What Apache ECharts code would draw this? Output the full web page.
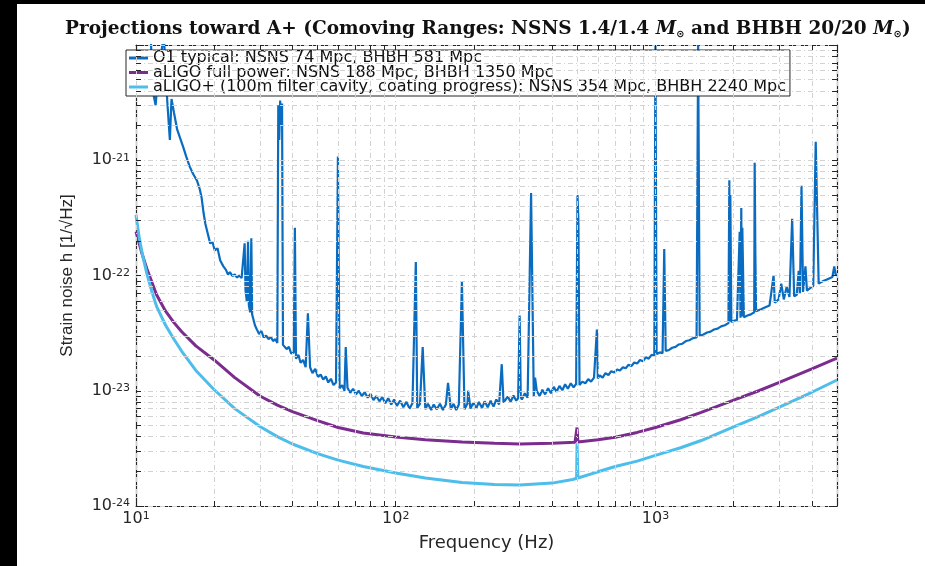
<!DOCTYPE html>
<html><head><meta charset="utf-8">
<script src="https://cdn.jsdelivr.net/npm/echarts@6/dist/echarts.min.js"></script>
<style>html,body{margin:0;padding:0;background:#fff}#c{width:925px;height:566px}</style>
</head><body><div id="c"></div>
<script>
const TITLE_PARTS = ['Projections toward A+ (Comoving Ranges: NSNS 1.4/1.4 ', ' and BHBH 20/20 ', ')'];
const SERIES_NAMES = [
  'O1 typical: NSNS 74 Mpc, BHBH 581 Mpc',
  'aLIGO full power: NSNS 188 Mpc, BHBH 1350 Mpc',
  'aLIGO+ (100m filter cavity, coating progress): NSNS 354 Mpc, BHBH 2240 Mpc'
];
const X_NAME = 'Frequency (Hz)';
const Y_NAME = 'Strain noise h [1/\u221AHz]';
const X_RANGE = [10, 5000];
const Y_RANGE = [1e-24, 1e-20];
const Y_HIDDEN_EXP = [-20];

const O1_FREQ = [10.9,11.3,11.6,11.9,12.2,12.8,13.2,13.5,13.7,14.0,14.4,14.8,15.2,15.6,16.1,16.6,17.2,17.6,17.9,18.2,18.5,18.9,19.3,19.7,20.1,20.6,21.1,21.7,22.2,22.6,23.0,23.5,24.0,24.5,25.0,25.5,25.9,26.2,26.4,26.7,27.0,27.2,27.5,27.8,28.0,28.3,28.7,29.2,29.8,30.4,31.0,31.7,32.4,33.0,33.7,34.4,35.0,35.3,35.6,35.9,36.2,36.5,36.8,37.3,38.0,38.8,39.6,40.5,40.9,41.3,42.2,43.0,44.0,45.0,45.9,46.8,47.8,49.0,50.2,51.4,52.6,53.8,55.0,56.3,57.6,58.9,59.9,60.8,62.2,63.5,64.2,65.2,66.8,68.5,70.3,72.1,74.0,76.0,78.0,80.0,82.1,84.2,86.5,88.8,91.2,93.6,96.1,98.6,101,104,107,110,113,116,119.5,121,124,127,130,133,137,140,144,148,152,156,159,163,167,171,175,179.8,184,189,190,194,199,204,209,215,220,226,232,238,244,250,256,260,263,270,277,284,291,296,300,303,306,314,322,332,340,344,349,358,367,376,386,396,406,416,427,438,449,460,472,484,495,501,505,510,523,537,551,565,580,590,595,600,610,626,642,659,676,694,712,730,749,768,788,808,829,850,872,895,918,942,966,990,1000,1010,1040,1065,1081,1095,1125,1160,1195,1230,1270,1310,1350,1395,1440,1460,1480,1530,1580,1630,1680,1735,1790,1850,1910,1925,1935,1942,1960,2000,2060,2110,2125,2140,2150,2160,2190,2260,2330,2400,2410,2425,2440,2550,2650,2750,2850,2880,2980,3050,3120,3200,3280,3360,3420,3500,3560,3600,3650,3700,3780,3830,3950,4050,4140,4250,4400,4600,4800,4880,4950,5000];
const O1_STRAIN = [8e-20,2e-20,4.0e-21,3.0e-21,6e-21,1.2e-20,3.2e-21,1.5e-21,3.4e-21,2.6e-21,1.85e-21,1.55e-21,1.30e-21,1.08e-21,8.8e-22,7.6e-22,6.6e-22,5.6e-22,4.7e-22,3.5e-22,2.8e-22,2.3e-22,1.9e-22,1.95e-22,1.65e-22,1.72e-22,1.35e-22,1.2e-22,1.12e-22,1.02e-22,1.07e-22,9.9e-23,1.02e-22,9.6e-23,1.0e-22,9.5e-23,9.8e-23,1.9e-22,7.5e-23,6.0e-23,2.0e-22,5.5e-23,4.8e-23,2.1e-22,4.6e-23,4.2e-23,3.7e-23,3.4e-23,3.1e-23,3.3e-23,2.9e-23,3.0e-23,2.8e-23,2.95e-23,2.7e-23,2.8e-23,2.6e-23,3.0e-21,1.5e-21,3.3e-21,2.0e-21,3.1e-21,2.5e-23,2.55e-23,2.3e-23,2.4e-23,2.1e-23,2.15e-23,2.6e-22,1.9e-23,2.05e-23,1.75e-23,1.85e-23,1.6e-23,4.7e-23,1.6e-23,1.42e-23,1.55e-23,1.32e-23,1.38e-23,1.25e-23,1.33e-23,1.18e-23,1.27e-23,1.12e-23,1.18e-23,1.08e-21,1.05e-23,1.12e-23,1.0e-23,2.4e-23,1.06e-23,9.6e-24,1.04e-23,9.3e-24,1.0e-23,9.0e-24,9.7e-24,8.7e-24,9.4e-24,8.3e-24,9.0e-24,8.1e-24,8.8e-24,7.8e-24,8.6e-24,7.6e-24,8.4e-24,7.4e-24,8.2e-24,7.2e-24,8.0e-24,7.0e-24,7.8e-24,1.31e-22,7.1e-24,7.7e-24,2.4e-23,6.9e-24,7.7e-24,6.8e-24,7.6e-24,6.9e-24,7.7e-24,6.8e-24,7.6e-24,1.17e-23,6.9e-24,7.7e-24,6.8e-24,7.6e-24,8.8e-23,6.9e-24,7.8e-24,1.0e-23,7.0e-24,7.9e-24,7.0e-24,8.0e-24,7.1e-24,8.1e-24,7.2e-24,8.2e-24,7.3e-24,8.4e-24,7.6e-24,1.7e-23,7.9e-24,8.0e-24,8.9e-24,8.0e-24,9.1e-24,8.2e-24,8.6e-24,4.5e-23,8.8e-24,8.4e-24,9.5e-24,8.7e-24,5.2e-22,9.0e-24,1.3e-23,1.0e-23,9.0e-24,1.02e-23,9.3e-24,1.05e-23,9.5e-24,1.08e-23,9.8e-24,1.1e-23,1.01e-23,1.14e-23,1.04e-23,1.16e-23,1.07e-23,1.15e-23,5.0e-22,3.0e-22,1.12e-23,1.2e-23,1.16e-23,1.26e-23,1.2e-23,1.3e-23,1.25e-23,3.4e-23,1.28e-23,1.36e-23,1.3e-23,1.42e-23,1.37e-23,1.48e-23,1.44e-23,1.53e-23,1.5e-23,1.6e-23,1.57e-23,1.68e-23,1.64e-23,1.76e-23,1.72e-23,1.85e-23,1.8e-23,1.95e-23,1.9e-23,2.05e-23,2.0e-23,1e-20,2.08e-23,2.15e-23,2.12e-23,1.7e-22,2.22e-23,2.25e-23,2.36e-23,2.4e-23,2.52e-23,2.56e-23,2.7e-23,2.74e-23,2.86e-23,2.9e-23,1e-20,3.0e-23,3.08e-23,3.2e-23,3.26e-23,3.4e-23,3.46e-23,3.62e-23,3.7e-23,3.86e-23,6.7e-22,4.0e-23,5.0e-22,3.95e-23,4.05e-23,4.1e-23,2.4e-22,4.3e-23,3.86e-22,4.4e-23,2.6e-22,4.35e-23,4.5e-23,4.6e-23,4.8e-23,9.5e-22,1.5e-22,4.9e-23,5.1e-23,5.3e-23,5.5e-23,1.0e-22,5.8e-23,6.2e-23,8.5e-23,6.2e-23,8.0e-23,6.5e-23,3.1e-22,6.6e-23,6.8e-23,1.1e-22,7.0e-23,6.0e-22,7.2e-23,1.2e-22,7.4e-23,7.8e-23,8.1e-23,1.45e-21,8.5e-23,8.9e-23,9.3e-23,9.7e-23,1.2e-22,1.0e-22,1.03e-22];

const ALIGO_FREQ = [10,10.5,11,11.5,12,13,14,15,17,20,24,30,35,40,50,60,75,100,130,180,240,300,400,490,497,499,501,503,600,700,850,1000,1250,1500,2000,2500,3000,4000,5000];
const ALIGO_STRAIN = [2.4e-22,1.6e-22,1.15e-22,8.8e-23,6.8e-23,4.9e-23,3.9e-23,3.25e-23,2.45e-23,1.85e-23,1.3e-23,9.0e-24,7.5e-24,6.6e-24,5.5e-24,4.8e-24,4.3e-24,3.97e-24,3.75e-24,3.6e-24,3.5e-24,3.45e-24,3.5e-24,3.58e-24,3.6e-24,4.8e-24,4.8e-24,3.6e-24,3.75e-24,3.95e-24,4.35e-24,4.8e-24,5.6e-24,6.5e-24,8.3e-24,1.0e-23,1.18e-23,1.55e-23,1.92e-23];

const APLUS_FREQ = [10,10.3,10.6,11,11.5,12,13,14,15,17,20,24,30,35,40,50,60,75,100,130,180,240,300,400,480,497,499,501,503,600,700,850,1000,1250,1500,2000,2500,3000,4000,5000];
const APLUS_STRAIN = [3.35e-22,2.1e-22,1.5e-22,1.05e-22,7.3e-23,5.4e-23,3.7e-23,2.8e-23,2.2e-23,1.5e-23,1.02e-23,7.0e-24,4.9e-24,4.0e-24,3.45e-24,2.85e-24,2.5e-24,2.2e-24,1.93e-24,1.75e-24,1.6e-24,1.54e-24,1.52e-24,1.58e-24,1.7e-24,1.74e-24,3.5e-24,3.5e-24,1.75e-24,1.98e-24,2.2e-24,2.45e-24,2.75e-24,3.2e-24,3.7e-24,4.85e-24,6.0e-24,7.2e-24,9.7e-24,1.24e-23];

const COLORS = ['#0a6cc0', '#7b2c8e', '#4dbdeb'];
const SANS = 'DejaVu Sans';
const INK = '#262626';

// The y values are fed to the log axis in units of 1e-24 (the axis labels restore the exponent).
const Y_UNIT_EXP = -24;
const toAxisY = v => v / Math.pow(10, Y_UNIT_EXP);
function pairs(xs, ys) { return xs.map((x, i) => [x, toAxisY(ys[i])]); }

const GRID = { left: 136, right: 88, top: 45, bottom: 60 };
const W = 925, H = 566;
const plotW = W - GRID.left - GRID.right, plotH = H - GRID.top - GRID.bottom;
const yMin = toAxisY(Y_RANGE[0]), yMax = toAxisY(Y_RANGE[1]);

// grid / tick positions: 1..9 x each decade
const xGrid = [], yGrid = [];
for (let e = 1; e <= 3; e++) for (let k = 1; k <= 9; k++) { const v = k * Math.pow(10, e); if (v <= X_RANGE[1]) xGrid.push(v); }
for (let e = 0; e <= 3; e++) for (let k = 1; k <= 9; k++) yGrid.push(k * Math.pow(10, e));
yGrid.push(yMax);

const TICK = 5;
const fx = Math.pow(10, TICK * Math.log10(X_RANGE[1] / X_RANGE[0]) / plotW);
const fy = Math.pow(10, TICK * Math.log10(yMax / yMin) / plotH);
const tickLines = [];
xGrid.forEach(v => {
  tickLines.push([{ coord: [v, yMin] }, { coord: [v, yMin * fy] }]);
  tickLines.push([{ coord: [v, yMax / fy] }, { coord: [v, yMax] }]);
});
yGrid.forEach(v => {
  tickLines.push([{ coord: [X_RANGE[0], v] }, { coord: [X_RANGE[0] * fx, v] }]);
  tickLines.push([{ coord: [X_RANGE[1] / fx, v] }, { coord: [X_RANGE[1], v] }]);
});

const expOf = v => Math.round(Math.log10(v));
const isPow10 = v => Math.abs(Math.log10(v) - expOf(v)) < 1e-6;
const richLab = {
  b: { fontFamily: SANS, fontSize: 16, color: INK, lineHeight: 16, padding: [6, 0, 0, 0], verticalAlign: 'bottom' },
  s: { fontFamily: SANS, fontSize: 11, color: INK, lineHeight: 11, verticalAlign: 'top' }
};

const axisLineStyle = { color: INK, width: 1.2 };
const gridLineStyle = { color: '#d2d2d2', width: 1, type: [5, 3, 1, 3] };

const chart = echarts.init(document.getElementById('c'), null, { renderer: 'canvas' });
chart.setOption({
  animation: false,
  backgroundColor: '#fff',
  title: {
    text: TITLE_PARTS[0] + '{m|M}{o|\u2299}' + TITLE_PARTS[1] + '{m|M}{o|\u2299}' + TITLE_PARTS[2],
    left: 60, top: 15,
    textStyle: {
      fontFamily: 'DejaVu Serif', fontSize: 18.5, fontWeight: 'bold', color: '#111',
      rich: {
        m: { fontFamily: 'DejaVu Serif', fontStyle: 'italic', fontWeight: 'bold', fontSize: 18.5, color: '#111' },
        o: { fontFamily: 'DejaVu Sans', fontSize: 10, color: '#111', verticalAlign: 'bottom', padding: [7, 0, 0, 0] }
      }
    }
  },
  legend: {
    data: SERIES_NAMES, orient: 'vertical', left: 126, top: 50,
    itemGap: -1.5, itemWidth: 19, itemHeight: 3, icon: 'rect',
    padding: [0, 4, 1, 3], borderColor: INK, borderWidth: 1, backgroundColor: '#fff',
    textStyle: { fontFamily: SANS, fontSize: 16, color: '#111' }
  },
  grid: { left: GRID.left, right: GRID.right, top: GRID.top, bottom: GRID.bottom, containLabel: false },
  xAxis: [
    { type: 'log', logBase: 10, min: X_RANGE[0], max: X_RANGE[1], name: X_NAME, nameLocation: 'middle', nameGap: 28,
      nameTextStyle: { fontFamily: SANS, fontSize: 18, color: INK },
      axisLine: { show: true, lineStyle: axisLineStyle }, axisTick: { show: false },
      axisLabel: { margin: 5, showMaxLabel: false, formatter: v => isPow10(v) ? '{b|10}{s|' + expOf(v) + '}' : '', rich: richLab },
      splitLine: { show: false } },
    { type: 'log', logBase: 10, min: X_RANGE[0], max: X_RANGE[1], position: 'top',
      axisLine: { show: true, lineStyle: axisLineStyle }, axisTick: { show: false },
      axisLabel: { show: false }, splitLine: { show: false } }
  ],
  yAxis: [
    { type: 'log', logBase: 10, min: yMin, max: yMax, name: Y_NAME, nameLocation: 'middle', nameGap: 60,
      nameTextStyle: { fontFamily: 'Liberation Sans', fontSize: 17, color: INK },
      axisLine: { show: true, lineStyle: axisLineStyle }, axisTick: { show: false },
      axisLabel: { margin: 6, formatter: v => { const e = expOf(v) + Y_UNIT_EXP; return (!isPow10(v) || Y_HIDDEN_EXP.includes(e)) ? '' : '{b|10}{s|' + e + '}'; }, rich: richLab },
      splitLine: { show: false } },
    { type: 'log', logBase: 10, min: yMin, max: yMax, position: 'right',
      axisLine: { show: true, lineStyle: axisLineStyle }, axisTick: { show: false },
      axisLabel: { show: false }, splitLine: { show: false } }
  ],
  series: [
    { name: '_grid', type: 'line', data: [[X_RANGE[0], yMin]], showSymbol: false, silent: true, z: 1,
      lineStyle: { opacity: 0 },
      markLine: { silent: true, symbol: 'none', label: { show: false }, lineStyle: gridLineStyle, animation: false,
        data: xGrid.map(v => ({ xAxis: v })).concat(yGrid.map(v => ({ yAxis: v }))) } },
    { name: '_ticks', type: 'line', data: [[X_RANGE[0], yMin]], showSymbol: false, silent: true, z: 5,
      lineStyle: { opacity: 0 },
      markLine: { silent: true, symbol: 'none', label: { show: false }, lineStyle: { color: INK, width: 1, type: 'solid' }, animation: false,
        data: tickLines } },
    { name: SERIES_NAMES[0], type: 'line', data: pairs(O1_FREQ, O1_STRAIN), showSymbol: false, z: 3,
      color: COLORS[0], lineStyle: { width: 2.2, color: COLORS[0] }, clip: true },
    { name: SERIES_NAMES[1], type: 'line', data: pairs(ALIGO_FREQ, ALIGO_STRAIN), showSymbol: false, z: 3,
      color: COLORS[1], lineStyle: { width: 3, color: COLORS[1] }, clip: true },
    { name: SERIES_NAMES[2], type: 'line', data: pairs(APLUS_FREQ, APLUS_STRAIN), showSymbol: false, z: 3,
      color: COLORS[2], lineStyle: { width: 3, color: COLORS[2] }, clip: true }
  ],
  graphic: [
    { type: 'rect', left: 0, top: 0, shape: { width: 17, height: 566 }, style: { fill: '#000' }, z: 100 },
    { type: 'rect', left: 0, top: 0, shape: { width: 925, height: 4 }, style: { fill: '#000' }, z: 100 }
  ]
});
</script></body></html>
